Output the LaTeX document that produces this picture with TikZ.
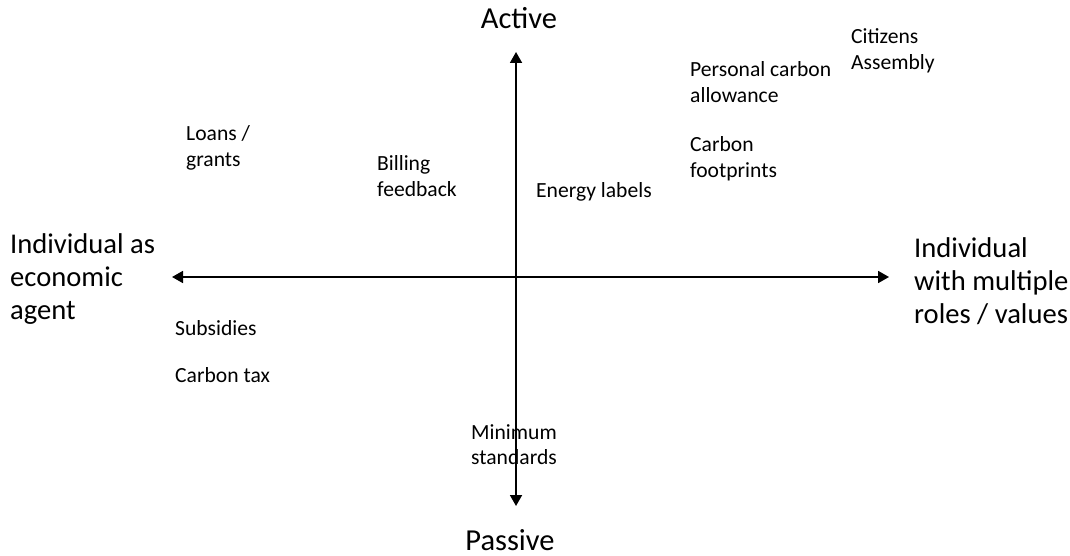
\documentclass[tikz,border=0pt]{standalone}
\usepackage{fontspec}
\setmainfont{Carlito}
\usetikzlibrary{arrows.meta}
\begin{document}
\begin{tikzpicture}[x=1pt,y=-1pt,
  axis/.style={line width=1.8pt,-{Triangle[width=12pt,length=11pt]}},
  small/.style={inner sep=0pt,anchor=base west,align=left,font=\fontsize{21.6}{25.5}\selectfont},
  big/.style={inner sep=0pt,anchor=base west,align=left,font=\fontsize{28.6}{33}\selectfont},
  pole/.style={inner sep=0pt,anchor=base,font=\fontsize{30.5}{36}\selectfont}]
\useasboundingbox[fill=white] (0,0) rectangle (1070,556);
% axes
\coordinate (o) at (516,277);
\coordinate (top) at (516,52);
\coordinate (bottom) at (516,506);
\coordinate (left) at (172,277);
\coordinate (right) at (889,277);
\draw[axis] (o) -- (top);
\draw[axis] (o) -- (bottom);
\draw[axis] (o) -- (left);
\draw[axis] (o) -- (right);
% axis ends (multi-line labels are placed by the baseline of their last line)
\node[pole] (active) at (519,29) {Active};
\node[pole] (passive) at (510,550) {Passive};
\node[big] (econ) at (10,319) {Individual as\\economic\\agent};
\node[big] (multi) at (914,323) {Individual\\with multiple\\roles / values};
% policy instruments
\node[small] (citizens) at (851,69.5) {Citizens\\Assembly};
\node[small] (pca) at (690,102.5) {Personal carbon\\allowance};
\node[small] (footprints) at (690,177.5) {Carbon\\footprints};
\node[small] (loans) at (186,166.5) {Loans /\\grants};
\node[small] (billing) at (377,196.5) {Billing\\feedback};
\node[small] (labels) at (536,197) {Energy labels};
\node[small] (subsidies) at (175,335) {Subsidies};
\node[small] (tax) at (175,382) {Carbon tax};
\node[small] (minimum) at (471,464.5) {Minimum\\standards};
\end{tikzpicture}
\end{document}
